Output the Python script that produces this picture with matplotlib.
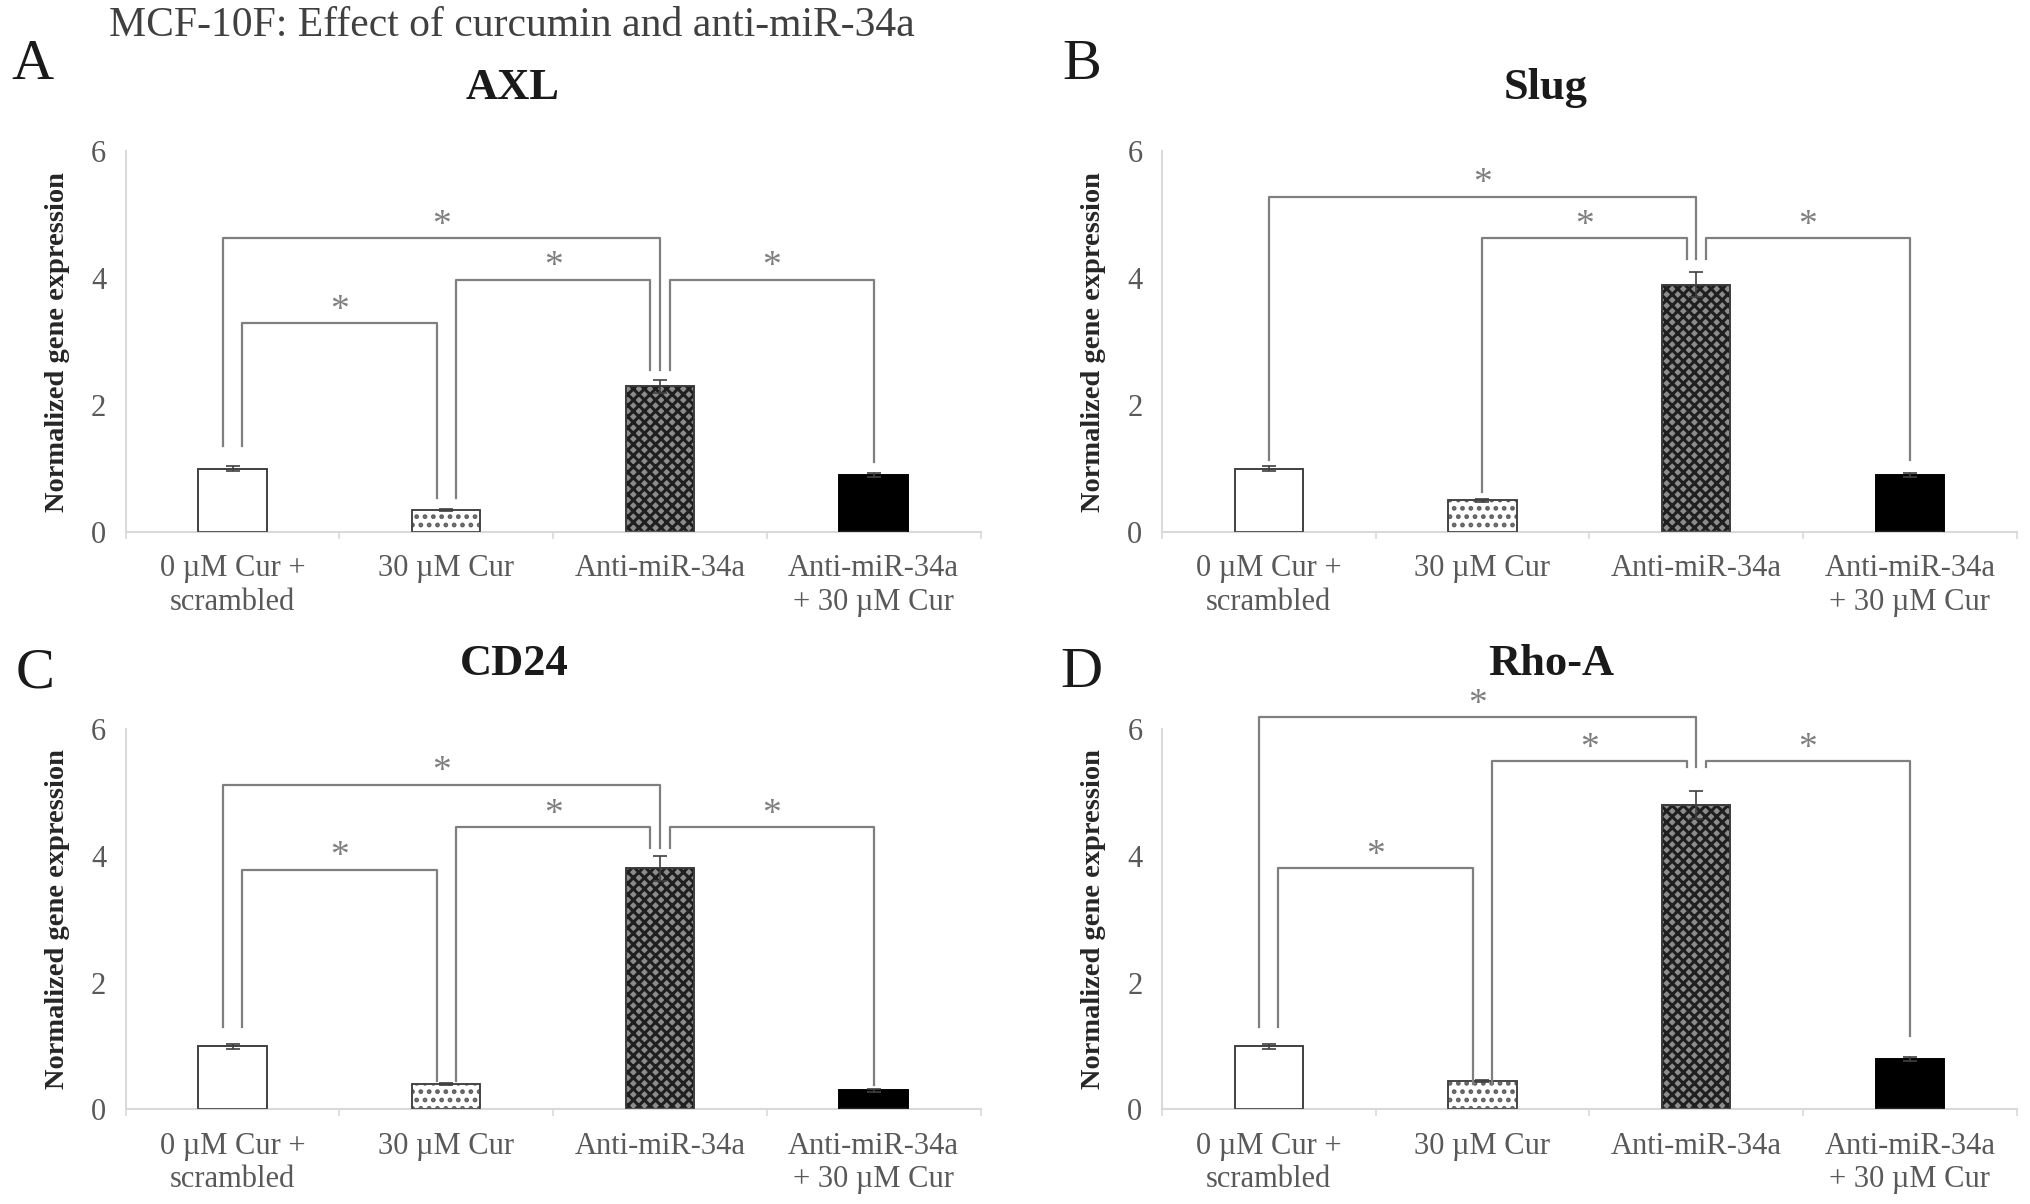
import numpy as np
import matplotlib
matplotlib.use('Agg')
import matplotlib.pyplot as plt

plt.rcParams['font.family'] = ['Liberation Serif', 'DejaVu Serif']
plt.rcParams['hatch.linewidth'] = 2.2

groups = ['0 µM Cur +\nscrambled', '30 µM Cur', 'Anti-miR-34a', 'Anti-miR-34a\n+ 30 µM Cur']
genes = ['AXL', 'Slug', 'CD24', 'Rho-A']
letters = ['A', 'B', 'C', 'D']

axl = [1.0, 0.35, 2.3, 0.9]
axl_err = [0.04, 0.02, 0.1, 0.03]
slug = [1.0, 0.5, 3.9, 0.9]
slug_err = [0.04, 0.02, 0.2, 0.03]
cd24 = [1.0, 0.4, 3.8, 0.3]
cd24_err = [0.04, 0.02, 0.2, 0.02]
rhoa = [1.0, 0.45, 4.8, 0.8]
rhoa_err = [0.04, 0.02, 0.22, 0.03]

# significance brackets: (bar i, bar j, bracket height)
axl_sig = [(0, 1, 3.29), (0, 2, 4.63), (1, 2, 3.98), (2, 3, 3.98)]
slug_sig = [(0, 2, 5.29), (1, 2, 4.63), (2, 3, 4.63)]
cd24_sig = [(0, 1, 3.78), (0, 2, 5.12), (1, 2, 4.45), (2, 3, 4.45)]
rhoa_sig = [(0, 1, 3.8), (0, 2, 6.18), (1, 2, 5.49), (2, 3, 5.49)]

# where the bracket legs stop above each bar
axl_leg = [1.35, 0.53, 2.55, 1.1]
slug_leg = [1.14, 0.63, 4.3, 1.14]
cd24_leg = [1.3, 0.45, 4.12, 0.39]
rhoa_leg = [1.3, 0.4, 5.4, 1.16]

values = [axl, slug, cd24, rhoa]
errors = [axl_err, slug_err, cd24_err, rhoa_err]
sigs = [axl_sig, slug_sig, cd24_sig, rhoa_sig]
legs = [axl_leg, slug_leg, cd24_leg, rhoa_leg]

W, H = 1568, 930   # layout measured on a 1568x930 view


def fx(x):
    return x / W


def fy(y):
    return 1 - y / H


fig = plt.figure(figsize=(20.31, 12.04), dpi=100)

axes_px = [(97, 411), (897, 411), (97, 857), (897, 857)]
title_px = [(396, 68), (1193, 68), (397, 513), (1198, 513)]
letter_px = [(25, 50), (835, 50), (27, 520), (835, 520)]

faces = ['white', 'white', '#8c8c8c', 'black']
hatches = [None, '..', 'xxx', None]
hcolors = ['#404040', '#606060', '#1f1f1f', 'black']

grid = '#d9d9d9'
txt = '#595959'
brk = '#7f7f7f'

for k in range(4):
    x0, y0 = axes_px[k]
    ax = fig.add_axes([fx(x0), fy(y0), 660 / W, 294 / H])
    xs = np.arange(4)
    for i in range(4):
        ax.bar(xs[i], values[k][i], width=0.32, color=faces[i], hatch=hatches[i],
               edgecolor=hcolors[i], linewidth=1.2, zorder=2)
        # redraw outline in a softer colour
        ax.bar(xs[i], values[k][i], width=0.32, color='none',
               edgecolor='#404040' if i < 3 else 'black', linewidth=1.2, zorder=3)
    ax.errorbar(xs, values[k], yerr=errors[k], fmt='none', ecolor='#404040',
                elinewidth=1.2, capsize=5, capthick=1.2, zorder=4)

    # bracket legs: spread legs that share a bar
    offs = {}
    for i in range(4):
        partners = []
        for (a, b, h) in sigs[k]:
            if a == i:
                partners.append(b)
            elif b == i:
                partners.append(a)
        partners.sort(key=lambda p: 1.0 / (p - i))
        n = len(partners)
        pos = np.linspace(-0.045, 0.045, n) if n > 1 else [0.0]
        for p, d in zip(partners, pos):
            offs[(i, p)] = d
    for (a, b, h) in sigs[k]:
        xa = a + offs[(a, b)]
        xb = b + offs[(b, a)]
        ax.plot([xa, xa, xb, xb], [legs[k][a], h, h, legs[k][b]], color=brk,
                lw=1.6, clip_on=False, zorder=5)
        ax.text((xa + xb) / 2, h + 0.2, '*', ha='center', va='center',
                fontsize=27, color=brk, clip_on=False)

    ax.set_xlim(-0.5, 3.5)
    ax.set_ylim(0, 6)
    ax.set_yticks([0, 2, 4, 6])
    ax.set_xticks(xs)
    ax.set_xticklabels(groups)
    ax.set_xticks(np.arange(-0.5, 4, 1), minor=True)
    ax.tick_params(axis='x', which='major', length=0, pad=16, labelsize=22, labelcolor=txt)
    ax.tick_params(axis='x', which='minor', length=5, width=1.2, color=grid)
    ax.tick_params(axis='y', length=0, pad=14, labelsize=22, labelcolor=txt)
    for s in ['top', 'right']:
        ax.spines[s].set_visible(False)
    for s in ['left', 'bottom']:
        ax.spines[s].set_color(grid)
        ax.spines[s].set_linewidth(1.5)
    ax.set_ylabel('Normalized gene expression', fontsize=20.5, fontweight='bold',
                  color='#262626', labelpad=15)

    tx, ty = title_px[k]
    fig.text(fx(tx), fy(ty), genes[k], ha='center', va='center', fontsize=32,
             fontweight='bold', color='#1a1a1a')
    lx, ly = letter_px[k]
    fig.text(fx(lx), fy(ly), letters[k], ha='center', va='center', fontsize=42,
             color='#1a1a1a')

fig.text(fx(395), fy(20), 'MCF-10F: Effect of curcumin and anti-miR-34a',
         ha='center', va='center', fontsize=30, color='#404040')

fig.savefig('out.png', dpi=100)
